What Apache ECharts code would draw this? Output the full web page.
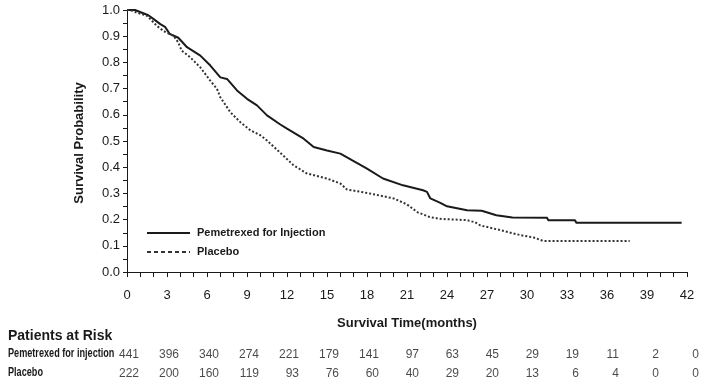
<!DOCTYPE html>
<html>
<head>
<meta charset="utf-8">
<script src="https://cdn.jsdelivr.net/npm/echarts@6/dist/echarts.min.js"></script>
<style>html,body{margin:0;padding:0;background:#fff}#c{width:707px;height:391px}</style>
</head>
<body>
<div id="c"></div>
<script>
// ---- data ----
const seriesNames = ['Pemetrexed for Injection', 'Placebo'];
const pemMonths = [0,0.6,0.73,1.6,2.0,2.5,2.85,3.2,3.85,4.5,5.5,6.25,7.0,7.5,8.25,9.0,9.75,10.5,11.5,12.0,13.25,14.0,15.0,16.0,16.9,18.0,19.2,20.7,22.2,22.5,22.75,23.5,24.0,25.5,26.6,27.7,28.9,31.5,31.6,33.6,33.7,41.6];
const pemSurv   = [1.0,1.0,0.995,0.98,0.965,0.946,0.936,0.909,0.894,0.858,0.826,0.788,0.743,0.737,0.693,0.661,0.636,0.598,0.563,0.547,0.509,0.477,0.464,0.452,0.426,0.395,0.357,0.331,0.312,0.306,0.281,0.264,0.251,0.236,0.234,0.217,0.208,0.207,0.198,0.198,0.188,0.188];
const placMonths = [0,0.25,0.73,1.5,2.23,2.73,3.5,3.85,4.1,4.73,5.5,6.25,6.75,7.0,7.75,8.5,9.25,10.0,10.5,11.35,12.5,13.5,15.0,16.0,16.5,18.0,20.0,21.0,21.8,22.7,23.5,25.5,26.1,26.5,28.0,29.5,30.5,31.2,37.7];
const placSurv   = [1.0,1.0,0.99,0.978,0.94,0.92,0.901,0.876,0.845,0.82,0.781,0.73,0.699,0.667,0.61,0.572,0.541,0.522,0.502,0.462,0.407,0.376,0.357,0.338,0.315,0.302,0.281,0.258,0.228,0.21,0.203,0.198,0.19,0.178,0.16,0.141,0.132,0.119,0.119];
const riskMonths = [0,3,6,9,12,15,18,21,24,27,30,33,36,39,42];
const pemAtRisk  = [441,396,340,274,221,179,141,97,63,45,29,19,11,2,0];
const placAtRisk = [222,200,160,119,93,76,60,40,29,20,13,6,4,0,0];
const riskRowNames = ['Pemetrexed for injection', 'Placebo'];
const yTickLabels = [0,0.1,0.2,0.3,0.4,0.5,0.6,0.7,0.8,0.9,1.0];
const yMinorTicks = [0,0.05,0.1,0.15,0.2,0.25,0.3,0.35,0.4,0.45,0.5,0.55,0.6,0.65,0.7,0.75,0.8,0.85,0.9,0.95,1.0];

// ---- build ----
const zip = (a, b) => a.map((v, i) => [v, b[i]]);
const riskData = [];
riskMonths.forEach((m, i) => { riskData.push([m, 0, pemAtRisk[i]]); riskData.push([m, 1, placAtRisk[i]]); });

const FONT = '"Liberation Sans", Arial, sans-serif';
const INK = '#1a1a1a';

const chart = echarts.init(document.getElementById('c'), null, { renderer: 'canvas' });
chart.setOption({
  animation: false,
  backgroundColor: '#fff',
  title: {
    text: 'Patients at Risk', left: 8, top: 329, padding: 0,
    textStyle: { fontFamily: FONT, fontSize: 14, fontWeight: 'bold', color: INK }
  },
  legend: {
    orient: 'vertical', left: 146, top: 226, padding: 0,
    itemWidth: 43, itemHeight: 14, itemGap: 5,
    itemStyle: { opacity: 0, borderWidth: 0 },
    textStyle: { fontFamily: FONT, fontSize: 11, fontWeight: 'bold', color: INK,
                 padding: [0, 0, 0, 2], lineHeight: 14 },
    data: [
      { name: seriesNames[0], lineStyle: { type: 'solid', width: 2 } },
      { name: seriesNames[1], lineStyle: { type: [4, 3], width: 2 } }
    ]
  },
  grid: [
    { left: 127, right: 20, top: 10, bottom: 115 },
    { left: 127, right: 20, top: 345, height: 38 }
  ],
  xAxis: [
    {
      gridIndex: 0, type: 'value', min: 0, max: 42, interval: 1,
      name: 'Survival Time(months)', nameLocation: 'middle', nameGap: 41,
      nameTextStyle: { fontFamily: FONT, fontSize: 13, fontWeight: 'bold', color: INK },
      axisLine: { lineStyle: { color: INK, width: 1 } },
      axisTick: { show: true, length: 5, lineStyle: { color: INK } },
      axisLabel: { customValues: riskMonths, margin: 13, fontFamily: FONT, fontSize: 13, color: INK },
      splitLine: { show: false }
    },
    { gridIndex: 1, type: 'value', min: 0, max: 42, show: false }
  ],
  yAxis: [
    {
      gridIndex: 0, type: 'value', min: -0.015, max: 1.0,
      name: 'Survival Probability', nameLocation: 'middle', nameGap: 41,
      nameTextStyle: { fontFamily: FONT, fontSize: 13, fontWeight: 'bold', color: INK },
      axisLine: { show: true, lineStyle: { color: INK, width: 1 } },
      axisTick: { show: true, length: 4, customValues: yMinorTicks, lineStyle: { color: INK } },
      axisLabel: { customValues: yTickLabels, margin: 7, fontFamily: FONT, fontSize: 13, color: INK,
                   formatter: v => Number(v).toFixed(1) },
      splitLine: { show: false }
    },
    {
      gridIndex: 1, type: 'category', data: riskRowNames, inverse: true, show: false
    }
  ],
  graphic: riskRowNames.map((name, i) => ({
    type: 'text', x: 8, y: 354 + i * 19, scaleX: 0.76, silent: true,
    style: { text: name, x: 0, y: 0, verticalAlign: 'middle', align: 'left',
             font: 'bold 12px "Liberation Sans", Arial, sans-serif', fill: INK }
  })),
  series: [
    {
      name: seriesNames[0], type: 'line', xAxisIndex: 0, yAxisIndex: 0,
      data: zip(pemMonths, pemSurv), symbol: 'none', showSymbol: false,
      lineStyle: { color: '#1a1a1a', width: 2, type: 'solid' }, itemStyle: { color: '#1a1a1a' }
    },
    {
      name: seriesNames[1], type: 'line', xAxisIndex: 0, yAxisIndex: 0,
      data: zip(placMonths, placSurv), symbol: 'none', showSymbol: false,
      lineStyle: { color: '#333', width: 2, type: [2, 2] }, itemStyle: { color: '#333' }
    },
    {
      name: 'atRisk', type: 'scatter', xAxisIndex: 1, yAxisIndex: 1,
      data: riskData, symbolSize: 1, itemStyle: { color: 'rgba(0,0,0,0)' },
      encode: { x: 0, y: 1 }, silent: true,
      label: {
        show: true, position: 'inside', align: 'right', offset: [12, 0],
        formatter: p => String(p.value[2]),
        fontFamily: FONT, fontSize: 12, color: INK
      }
    }
  ]
});
</script>
</body>
</html>
